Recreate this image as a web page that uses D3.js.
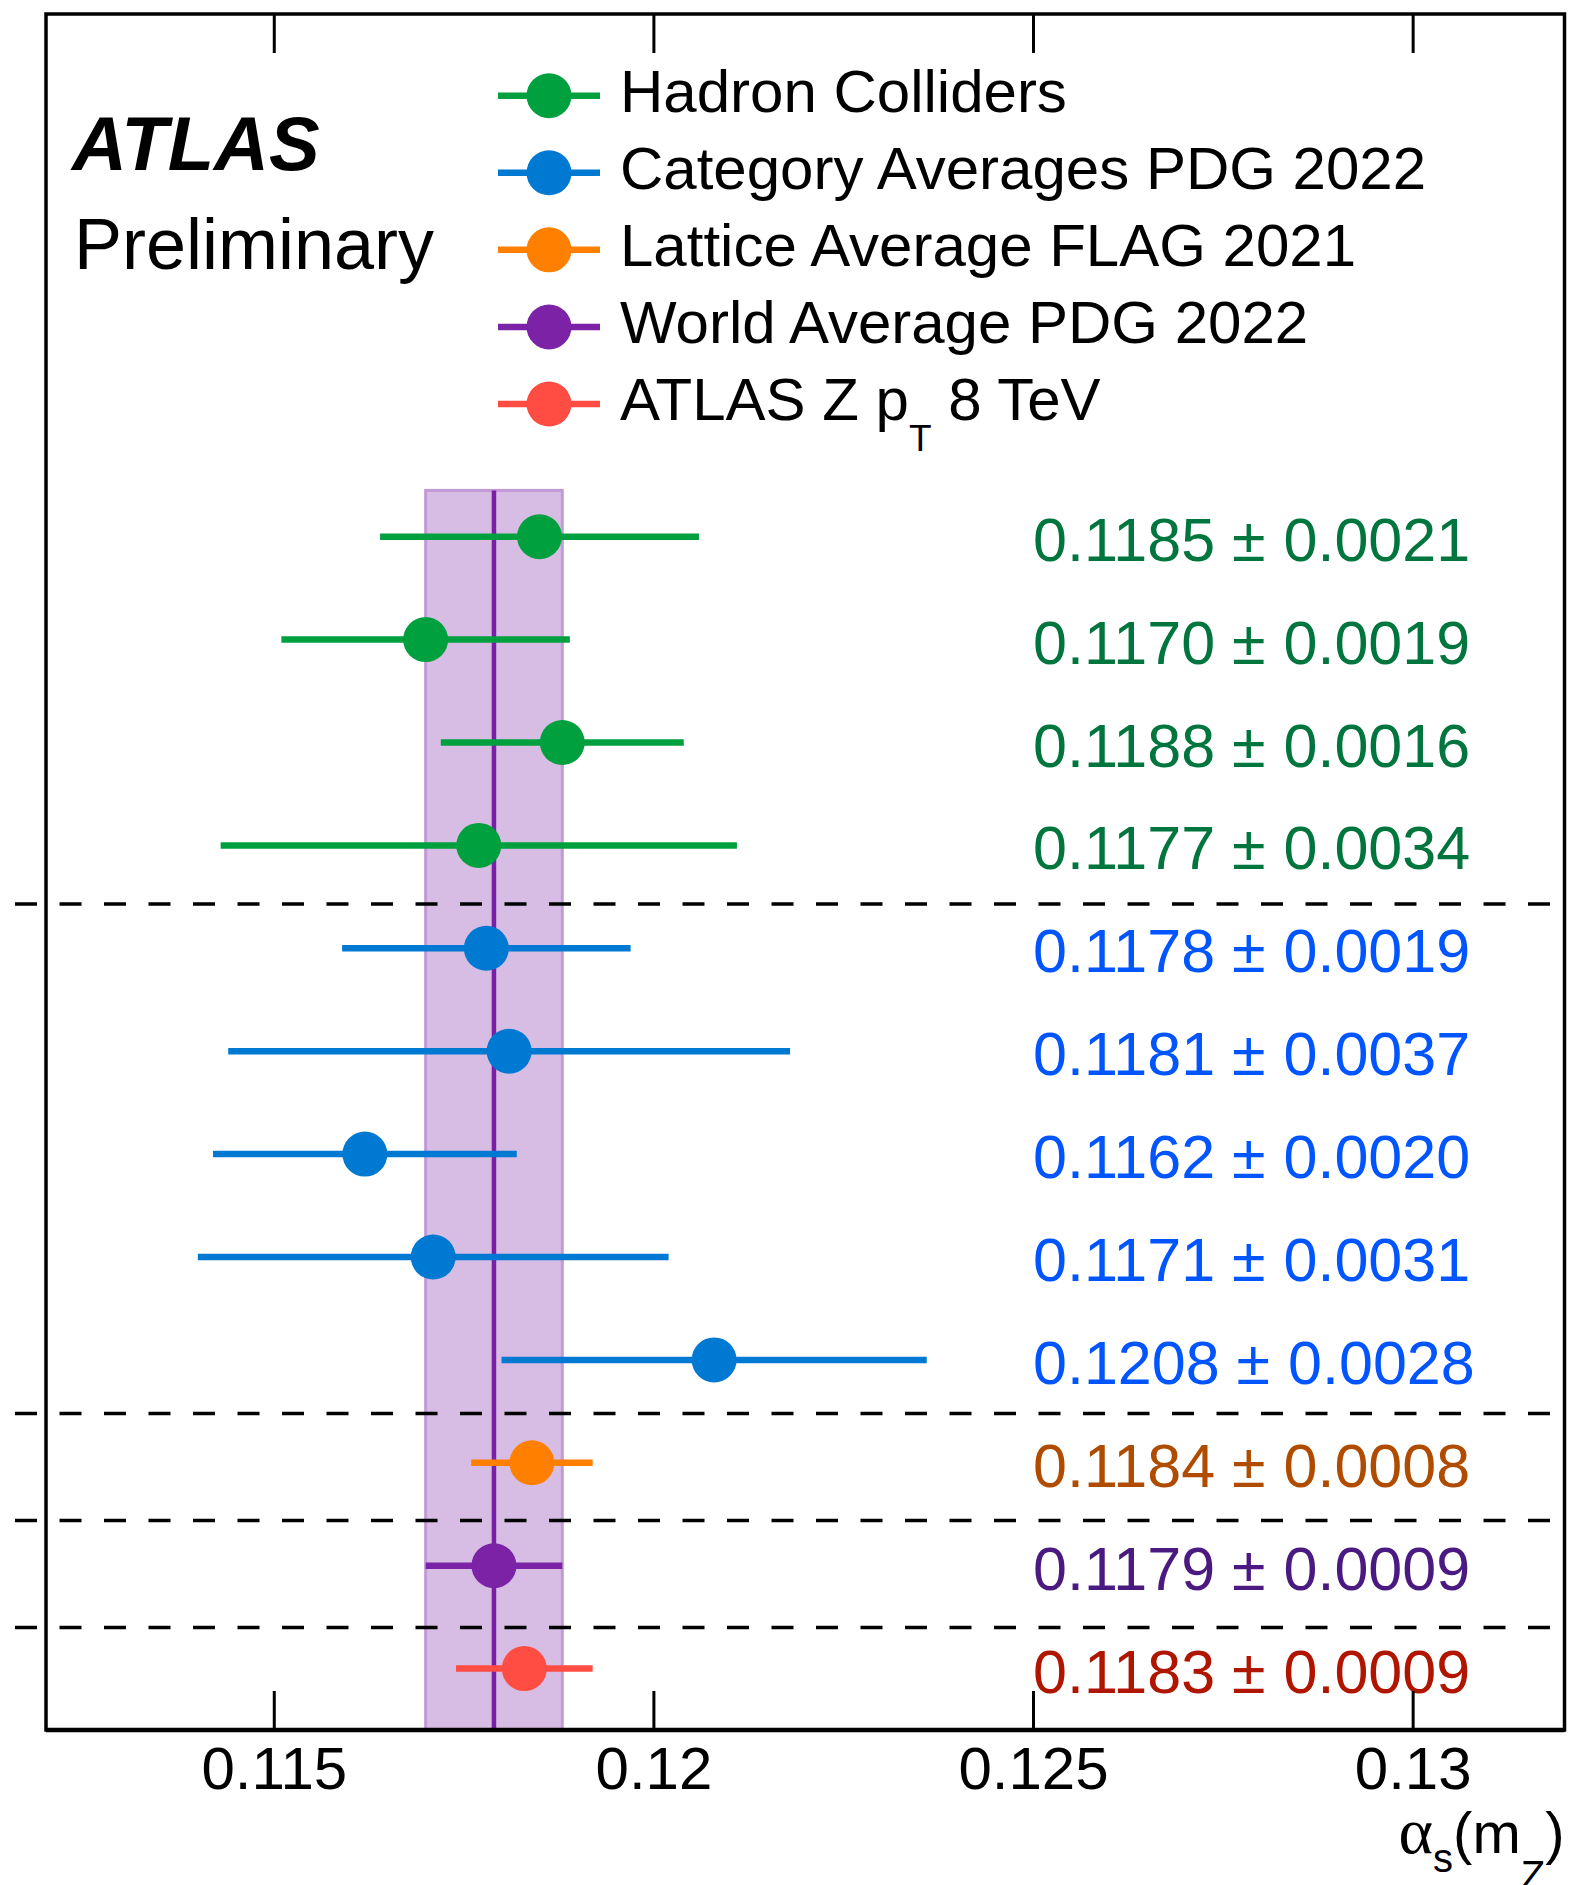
<!DOCTYPE html>
<html>
<head>
<meta charset="utf-8">
<script src="https://cdn.jsdelivr.net/npm/d3@7"></script>
<style>
  html, body { margin: 0; padding: 0; background: #fff; }
  svg { display: block; }
  text { font-family: "Liberation Sans", Arial, Helvetica, sans-serif; }
</style>
</head>
<body>
<svg id="chart" width="1573" height="1885"></svg>
<script>
// alpha_s(m_Z) determinations, top row first
const groups = ["Hadron Colliders", "Category Averages PDG 2022", "Lattice Average FLAG 2021",
                "World Average PDG 2022", "ATLAS Z p_{T} 8 TeV"];
const groupOfRow = [0, 0, 0, 0, 1, 1, 1, 1, 1, 2, 3, 4];
const centralValues = [0.1185, 0.1170, 0.1188, 0.1177, 0.1178, 0.1181, 0.1162, 0.1171, 0.1208, 0.1184, 0.1179, 0.1183];
const uncertainties = [0.0021, 0.0019, 0.0016, 0.0034, 0.0019, 0.0037, 0.0020, 0.0031, 0.0028, 0.0008, 0.0009, 0.0009];
const worldAverageRow = 10;
const separatorRows = [3.57, 8.52, 9.56, 10.6];
const tickValues = [0.115, 0.12, 0.125, 0.13];
const tickLabels = ["0.115", "0.12", "0.125", "0.13"];
const markerColors = ["#00a03e", "#0079d2", "#ff7f00", "#7b22a6", "#ff4d43"];
const textColors = ["#00753d", "#0055ff", "#b04c00", "#4b1a80", "#b01500"];

const svg = d3.select("#chart");
const frame = { left: 46, right: 1564.5, top: 14, bottom: 1730 };

const x = d3.scaleLinear().domain([0.112, 0.132]).range([frame.left, frame.right]);
const y = d3.scaleLinear().domain([0, 11]).range([536.7, 1668.6]);
const yLegend = d3.scaleLinear().domain([0, 4]).range([95.7, 404]);

// World-average band and central line
const wa = centralValues[worldAverageRow], waErr = uncertainties[worldAverageRow];
const bandTop = y(-0.45);
svg.append("rect")
  .attr("x", x(wa - waErr)).attr("y", bandTop)
  .attr("width", x(wa + waErr) - x(wa - waErr))
  .attr("height", frame.bottom - bandTop)
  .attr("fill", "#d7bde3").attr("stroke", "#c29ad6").attr("stroke-width", 3);
svg.append("line")
  .attr("x1", x(wa)).attr("x2", x(wa))
  .attr("y1", bandTop).attr("y2", frame.bottom)
  .attr("stroke", "#7b1fa8").attr("stroke-width", 4.5);

// Group separators
svg.selectAll("line.sep").data(separatorRows).join("line")
  .attr("class", "sep")
  .attr("x1", 15).attr("x2", frame.right - 6)
  .attr("y1", d => y(d)).attr("y2", d => y(d))
  .attr("stroke", "#000").attr("stroke-width", 3.5)
  .attr("stroke-dasharray", "22 22.5");

// Measurements: error bars, markers, value labels
const rows = centralValues.map((v, i) => ({ v, e: uncertainties[i], g: groupOfRow[i], i }));

svg.selectAll("line.err").data(rows).join("line")
  .attr("class", "err")
  .attr("x1", d => x(d.v - d.e)).attr("x2", d => x(d.v + d.e))
  .attr("y1", d => y(d.i)).attr("y2", d => y(d.i))
  .attr("stroke", d => markerColors[d.g]).attr("stroke-width", 6.5);

svg.selectAll("circle.pt").data(rows).join("circle")
  .attr("class", "pt")
  .attr("cx", d => x(d.v)).attr("cy", d => y(d.i)).attr("r", 22.5)
  .attr("fill", d => markerColors[d.g]);

const valText = svg.selectAll("text.val").data(rows).join("text")
  .attr("class", "val")
  .attr("x", x(0.125)).attr("y", d => y(d.i) + 24)
  .attr("font-size", 61)
  .attr("fill", d => textColors[d.g]);
valText.append("tspan").text(d => d.v.toFixed(4));
valText.append("tspan").attr("dx", 17).text("±");
valText.append("tspan").attr("dx", 18).text(d => d.e.toFixed(4));

// Frame and axes
svg.append("rect")
  .attr("x", frame.left).attr("y", frame.top)
  .attr("width", frame.right - frame.left).attr("height", frame.bottom - frame.top)
  .attr("fill", "none").attr("stroke", "#000").attr("stroke-width", 3.5);

const bottomAxis = svg.append("g")
  .attr("transform", `translate(0,${frame.bottom})`)
  .call(d3.axisBottom(x).tickValues(tickValues)
    .tickFormat((d, i) => tickLabels[i])
    .tickSizeInner(-39).tickSizeOuter(0).tickPadding(16));
bottomAxis.select(".domain").remove();
bottomAxis.selectAll(".tick line").attr("stroke", "#000").attr("stroke-width", 3);
bottomAxis.selectAll(".tick text")
  .attr("font-size", 60).attr("font-family", "'Liberation Sans', Arial, sans-serif").attr("fill", "#000");
svg.append("line")
  .attr("x1", frame.left).attr("x2", frame.right)
  .attr("y1", frame.bottom).attr("y2", frame.bottom)
  .attr("stroke", "#000").attr("stroke-width", 4.5);

const topAxis = svg.append("g")
  .attr("transform", `translate(0,${frame.top})`)
  .call(d3.axisTop(x).tickValues(tickValues).tickFormat("")
    .tickSizeInner(-39).tickSizeOuter(0));
topAxis.select(".domain").remove();
topAxis.selectAll(".tick line").attr("stroke", "#000").attr("stroke-width", 3);

// Axis title: alpha_s(m_Z)
const title = svg.append("text")
  .attr("x", frame.right).attr("y", 1853)
  .attr("text-anchor", "end").attr("font-size", 58).attr("fill", "#000");
title.append("tspan").attr("font-family", "'Liberation Serif', 'DejaVu Serif', serif")
  .attr("font-size", 66).text("α");
title.append("tspan").attr("font-size", 40).attr("dy", 19).text("s");
title.append("tspan").attr("dy", -19).text("(m");
title.append("tspan").attr("font-size", 40).attr("dy", 36).text("Z");
title.append("tspan").attr("dy", -36).text(")");

// ATLAS label
svg.append("text")
  .attr("x", 72).attr("y", 170)
  .attr("font-size", 76).attr("font-weight", "bold").attr("font-style", "italic")
  .text("ATLAS");
svg.append("text")
  .attr("x", 74).attr("y", 269)
  .attr("font-size", 72)
  .text("Preliminary");

// Legend
const legend = svg.selectAll("g.leg").data(groups).join("g")
  .attr("class", "leg")
  .attr("transform", (d, i) => `translate(0,${yLegend(i)})`);
legend.append("line")
  .attr("x1", 498).attr("x2", 600).attr("y1", 0).attr("y2", 0)
  .attr("stroke", (d, i) => markerColors[i]).attr("stroke-width", 6.5);
legend.append("circle")
  .attr("cx", 549).attr("cy", 0).attr("r", 22.5)
  .attr("fill", (d, i) => markerColors[i]);
legend.append("text")
  .attr("x", 620).attr("y", 16)
  .attr("font-size", 60).attr("fill", "#000")
  .each(function (d) {
    const t = d3.select(this);
    // "_{...}" marks a subscript; the text after it returns to the baseline
    const parts = d.split(/(_\{[^}]*\})/).filter(p => p);
    let shift = 0;
    parts.forEach(p => {
      const m = p.match(/^_\{([^}]*)\}$/);
      if (m) {
        t.append("tspan").attr("font-size", 37).attr("dy", 31 - shift).text(m[1]);
        shift = 31;
      } else {
        t.append("tspan").attr("dy", -shift).text(p);
        shift = 0;
      }
    });
  });
</script>
</body>
</html>
